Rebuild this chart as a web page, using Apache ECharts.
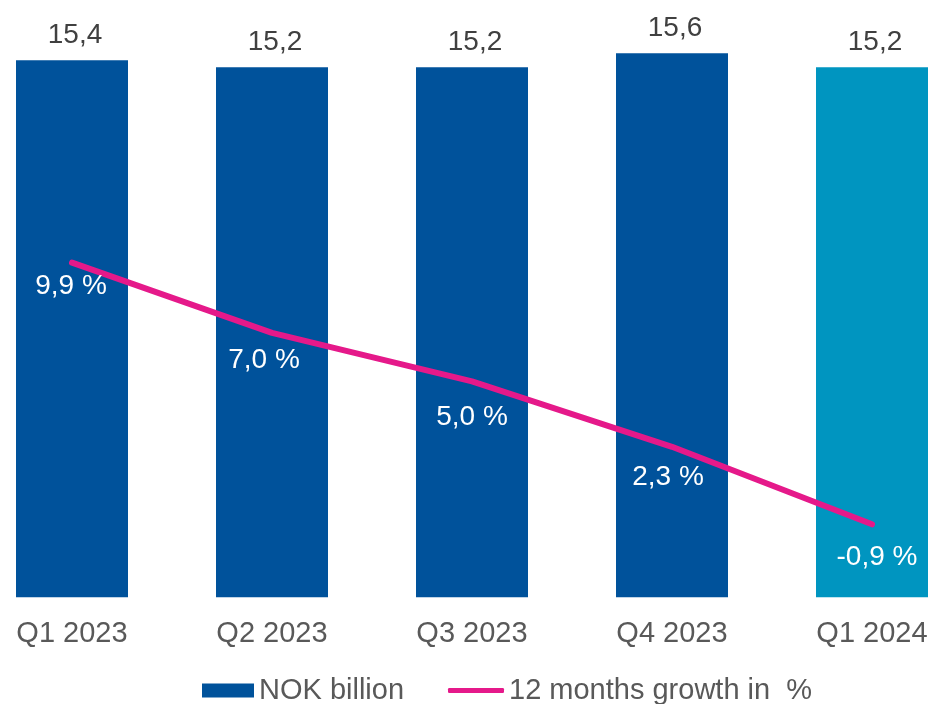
<!DOCTYPE html>
<html>
<head>
<meta charset="utf-8">
<script src="https://cdn.jsdelivr.net/npm/echarts@6/dist/echarts.min.js"></script>
<style>
  html, body { margin: 0; padding: 0; background: #ffffff; overflow: hidden; width: 929px; height: 704px; }
  /* The plot runs past both edges of the page: the first and last bands are cut off */
  #chart { position: absolute; left: -28px; top: 0; width: 1000px; height: 704px; }
</style>
</head>
<body>
<div id="chart"></div>
<script>
// Quarterly volume (NOK billion) and 12-month growth (%)
const quarters = ['Q1 2023', 'Q2 2023', 'Q3 2023', 'Q4 2023', 'Q1 2024'];
const nokBillion = [15.4, 15.2, 15.2, 15.6, 15.2];
const growthPct = [9.9, 7.0, 5.0, 2.3, -0.9];
const seriesNames = ['NOK billion', '12 months growth in  %'];

// Fine placement of the growth labels relative to each point
const growthLabelShift = [[-1, 24], [-8, 27], [0, 36], [-4, 30], [5, 33]];

const FONT = '"Liberation Sans", Arial, sans-serif';
const BLUE = '#00529B';
const TEAL = '#0095C0';
const PINK = '#E5198A';
const X0 = 28; // page-to-chart horizontal shift

const comma = v => v.toFixed(1).replace('.', ',');

const barData = nokBillion.map((v, i) =>
  i === nokBillion.length - 1 ? { value: v, itemStyle: { color: TEAL } } : v
);

const labelData = growthPct.map((v, i) => ({
  value: v,
  label: { offset: growthLabelShift[i] }
}));

const chart = echarts.init(document.getElementById('chart'), null, { renderer: 'canvas' });

const legendText = { fontFamily: FONT, fontSize: 29, color: '#595959' };

chart.setOption({
  animation: false,
  backgroundColor: '#ffffff',
  grid: { left: 0, right: 0, top: 4.5, bottom: 106.7, containLabel: false },
  legend: [
    {
      left: 202 + X0,
      top: 676,
      padding: 0,
      itemWidth: 52,
      itemHeight: 14,
      textStyle: legendText,
      data: [{ name: seriesNames[0], icon: 'rect' }]
    },
    {
      left: 448 + X0,
      top: 676,
      padding: 0,
      itemWidth: 56,
      itemHeight: 5,
      textStyle: legendText,
      data: [{ name: seriesNames[1], icon: 'roundRect' }]
    }
  ],
  xAxis: {
    type: 'category',
    data: quarters,
    axisLine: { show: false },
    axisTick: { show: false },
    axisLabel: {
      margin: 22,
      fontFamily: FONT,
      fontSize: 29,
      color: '#595959'
    }
  },
  yAxis: [
    { type: 'value', min: 0, max: 17, show: false, splitLine: { show: false } },
    { type: 'value', min: -3.914, max: 20.56, show: false, splitLine: { show: false } }
  ],
  series: [
    {
      name: seriesNames[0],
      type: 'bar',
      yAxisIndex: 0,
      barWidth: 112,
      itemStyle: { color: BLUE },
      label: {
        show: true,
        position: 'top',
        distance: 11,
        offset: [3, 0],
        fontFamily: FONT,
        fontSize: 28,
        color: '#404040',
        formatter: p => comma(p.value)
      },
      data: barData
    },
    {
      name: seriesNames[1],
      type: 'line',
      yAxisIndex: 1,
      symbol: 'none',
      lineStyle: { color: PINK, width: 6, cap: 'round' },
      itemStyle: { color: PINK },
      data: growthPct,
      z: 3
    },
    {
      // value labels for the growth line
      name: 'growth-labels',
      type: 'scatter',
      yAxisIndex: 1,
      symbolSize: 1,
      itemStyle: { color: PINK, opacity: 1 },
      label: {
        show: true,
        position: 'inside',
        fontFamily: FONT,
        fontSize: 28,
        color: '#ffffff',
        textBorderWidth: 0,
        textBorderColor: 'transparent',
        opacity: 1,
        formatter: p => comma(p.value) + ' %'
      },
      data: labelData,
      z: 4
    }
  ]
});
</script>
</body>
</html>
